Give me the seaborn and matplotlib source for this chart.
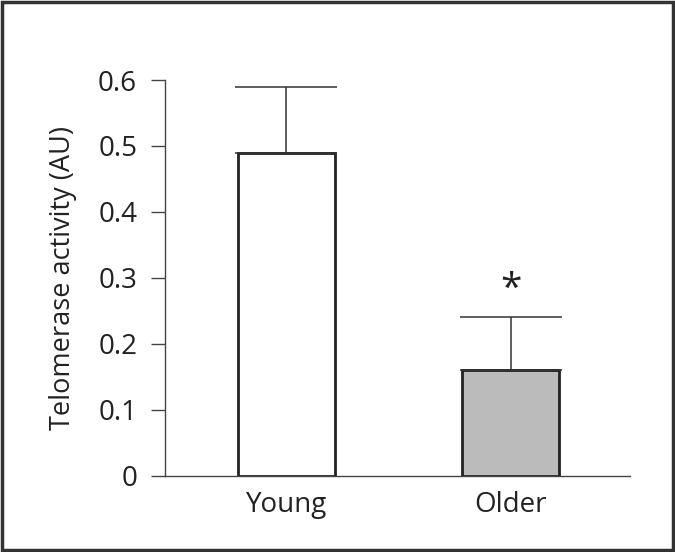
import matplotlib
matplotlib.use("Agg")
import matplotlib.pyplot as plt
import numpy as np
import pandas as pd
import seaborn as sns
from matplotlib.patches import Rectangle

groups = ["Young", "Older"]
means = [0.49, 0.16]
sem = [0.10, 0.08]
fills = ["#ffffff", "#bbbbbb"]
yticks = [0, 0.1, 0.2, 0.3, 0.4, 0.5, 0.6]
ytick_labels = ["0", "0.1", "0.2", "0.3", "0.4", "0.5", "0.6"]

sns.set_style("ticks")
plt.rcParams["font.family"] = ["Open Sans", "DejaVu Sans"]

df = pd.DataFrame({"group": groups, "value": means})

fig = plt.figure(figsize=(6.75, 5.52), dpi=100)
ax = fig.add_axes([0.2444, 0.1382, 0.6889, 0.7168])

sns.barplot(data=df, x="group", y="value", hue="group", palette=fills,
            width=0.43, edgecolor="#222222", linewidth=2.0, legend=False,
            errorbar=None, ax=ax)

x = np.arange(len(groups))
ax.errorbar(x, means, yerr=[np.zeros(len(sem)), sem], fmt="none",
            ecolor="#333333", elinewidth=1.1, capsize=37, capthick=1.1,
            zorder=1)

# significance marker above the older group
ax.text(1, means[1] + sem[1] + 0.042, "*", ha="center", va="center",
        fontsize=28, color="#222222")

ax.set_xlim(-0.542, 1.533)
ax.set_ylim(0, 0.6)
ax.set_yticks(yticks)
ax.set_yticklabels(ytick_labels)
ax.set_xlabel("")
ax.set_ylabel("Telomerase activity (AU)", fontsize=19.5, color="#222222",
              labelpad=15)
ax.tick_params(axis="y", length=10, width=1, color="#444444",
               labelsize=20, labelcolor="#222222", pad=10)
ax.tick_params(axis="x", length=0, labelsize=20, labelcolor="#222222", pad=11)
sns.despine(ax=ax)
for side in ["left", "bottom"]:
    ax.spines[side].set_color("#444444")
    ax.spines[side].set_linewidth(1)

fig.patches.append(Rectangle((0.003, 0.004), 0.994, 0.992,
                             transform=fig.transFigure, fill=False,
                             edgecolor="#333333", linewidth=2.5))

fig.savefig("out.png", dpi=100)
plt.close(fig)
